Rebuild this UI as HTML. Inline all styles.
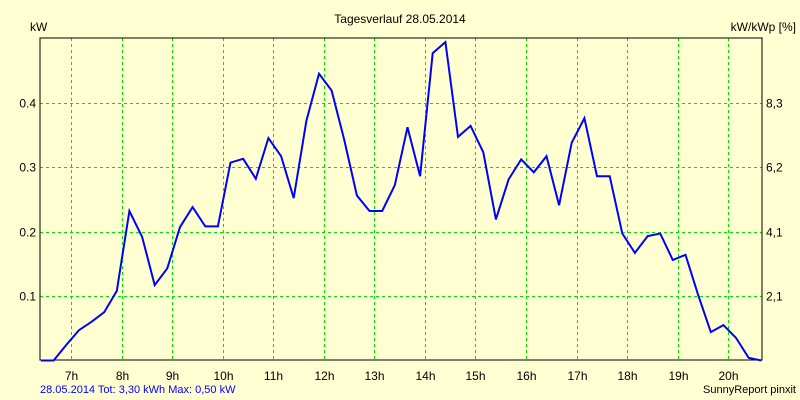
<!DOCTYPE html>
<html><head><meta charset="utf-8"><style>
body{margin:0;background:#FFFFD2;}
svg{display:block;font-family:"Liberation Sans",sans-serif;}
</style></head><body>
<svg id="chart" width="800" height="400" viewBox="0 0 800 400">
<rect x="0" y="0" width="800" height="400" fill="#FFFFD2"/>
<text x="400" y="23" font-size="12" text-anchor="middle">Tagesverlauf 28.05.2014</text>
<text x="30" y="31" font-size="12">kW</text>
<text x="796" y="31" font-size="12" text-anchor="end">kW/kWp [%]</text>
<g id="grid"></g>
<g id="ticks"></g>
<rect x="40" y="38" width="722" height="322" fill="none" stroke="#000" stroke-width="1"/>
<polyline id="line" fill="none" stroke="#0000FF" stroke-width="2"/>
<text x="40" y="393" font-size="11" fill="#0000FF">28.05.2014 Tot: 3,30 kWh Max: 0,50 kW</text>
<text x="796" y="393" font-size="11" text-anchor="end">SunnyReport pinxit</text>
</svg>
<script>
const startHour = 6.406;
const stepHours = 0.25;
const powerKW = [0,0,0.024,0.047,0.06,0.075,0.108,0.232,0.192,0.117,0.143,0.207,0.238,0.208,0.208,0.307,0.313,0.282,0.345,0.317,0.252,0.372,0.445,0.419,0.342,0.256,0.232,0.232,0.272,0.362,0.286,0.477,0.494,0.347,0.364,0.323,0.219,0.281,0.312,0.292,0.317,0.241,0.338,0.376,0.286,0.286,0.197,0.167,0.193,0.197,0.156,0.164,0.102,0.044,0.055,0.035,0.004,0];
const hourTicks = [7,8,9,10,11,12,13,14,15,16,17,18,19,20];
const leftTicks = [0.1,0.2,0.3,0.4];
const leftLabels = ["0.1","0.2","0.3","0.4"];
const rightLabels = ["2,1","4,1","6,2","8,3"];

const X0=40,X1=762,Y0=360,Y1=38;
const xScale = h => 71 + (h-7)*50.55;
const yScale = v => 360.5 - v*644.5;
const NS="http://www.w3.org/2000/svg";
const grid=document.getElementById('grid'), ticks=document.getElementById('ticks');
function mk(tag,attrs,parent){const e=document.createElementNS(NS,tag);for(const k in attrs)e.setAttribute(k,attrs[k]);parent.appendChild(e);return e;}
hourTicks.forEach(h=>{
  const x=Math.round(xScale(h))+0.5;
  const l=mk('line',{x1:x,x2:x,y1:Y1,y2:Y0,stroke:'#00E000','stroke-dasharray':'3,3'},grid);
  
  
  const t=mk('text',{x:x,y:380,'font-size':12,'text-anchor':'middle'},ticks);
  t.textContent=h+'h';
  
  
});
leftTicks.forEach((v,i)=>{
  const y=Math.round(yScale(v))+0.5;
  const l=mk('line',{x1:X0,x2:X1,y1:y,y2:y,stroke:'#00E000','stroke-dasharray':'3,3'},grid);
  
  
  const t=mk('text',{x:36,y:y+4,'font-size':12,'text-anchor':'end'},ticks);
  t.textContent=leftLabels[i];
  
  
  const r=mk('text',{x:766,y:y+4,'font-size':12},ticks);
  r.textContent=rightLabels[i];
  
  
});
document.getElementById('line').setAttribute('points',
  powerKW.map((v,i)=>xScale(startHour+i*stepHours).toFixed(1)+','+yScale(v).toFixed(1)).join(' '));
</script>
</body></html>
